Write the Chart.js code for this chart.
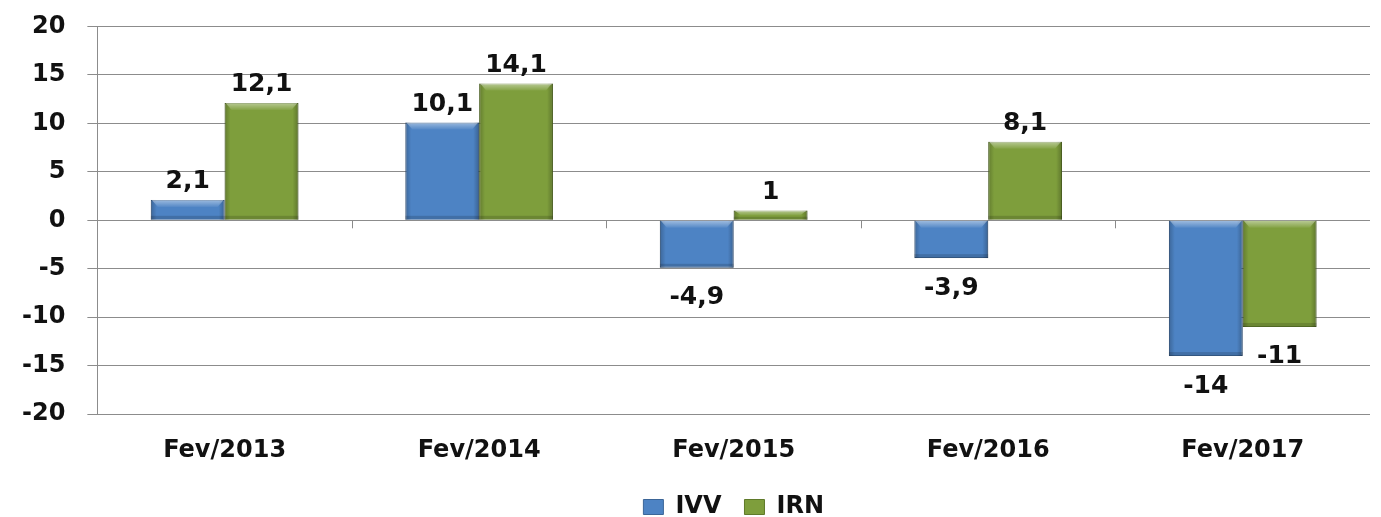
<!DOCTYPE html>
<html>
<head>
<meta charset="utf-8">
<script src="https://cdn.jsdelivr.net/npm/chart.js@4/dist/chart.umd.min.js"></script>
<style>
  html, body { margin: 0; padding: 0; background: #fff; overflow: hidden; }
  #wrap { width: 1381px; height: 529px; }
</style>
</head>
<body>
<div id="wrap"><canvas id="grafico"></canvas></div>
<script>
// ===================== DADOS =====================
const categorias = ["Fev/2013", "Fev/2014", "Fev/2015", "Fev/2016", "Fev/2017"];
const valoresIVV = [2.1, 10.1, -4.9, -3.9, -14];
const valoresIRN = [12.1, 14.1, 1, 8.1, -11];
const nomesSeries = ["IVV", "IRN"];

const fonte = "'DejaVu Sans', Verdana, sans-serif";

// ===================== ROTULOS =====================
const rotulos = {
  id: "rotulos",
  afterDatasetsDraw(chart) {
    const c = chart.ctx;
    c.save();

    // efeito de relevo nas barras
    chart.data.datasets.forEach((ds, i) => {
      chart.getDatasetMeta(i).data.forEach((bar) => {
        const x0 = bar.x - bar.width / 2;
        const top = Math.min(bar.y, bar.base);
        const h = Math.abs(bar.base - bar.y);
        const g = c.createLinearGradient(x0, 0, x0 + bar.width, 0);
        g.addColorStop(0, "rgba(0,0,0,0.22)");
        g.addColorStop(0.08, "rgba(0,0,0,0)");
        g.addColorStop(0.92, "rgba(0,0,0,0)");
        g.addColorStop(1, "rgba(0,0,0,0.25)");
        c.fillStyle = g;
        c.fillRect(x0, top, bar.width, h);
        const faixa = Math.min(7, h / 2);
        const g2 = c.createLinearGradient(0, top, 0, top + faixa);
        g2.addColorStop(0, "rgba(255,255,255,0.45)");
        g2.addColorStop(1, "rgba(255,255,255,0.05)");
        c.fillStyle = g2;
        c.beginPath();
        c.moveTo(x0 + 1, top);
        c.lineTo(x0 + bar.width - 1, top);
        c.lineTo(x0 + bar.width - 7, top + faixa);
        c.lineTo(x0 + 7, top + faixa);
        c.closePath();
        c.fill();
        const fundo = Math.min(4, h / 3);
        c.fillStyle = "rgba(0,0,0,0.15)";
        c.fillRect(x0, top + h - fundo, bar.width, fundo);
      });
    });

    c.font = "bold 25px " + fonte;
    c.fillStyle = "#111";
    c.textAlign = "center";
    c.textBaseline = "middle";
    chart.data.datasets.forEach((ds, i) => {
      chart.getDatasetMeta(i).data.forEach((bar, j) => {
        const v = ds.data[j];
        const y = v >= 0 ? bar.y - 18 : bar.y + 30;
        c.fillText(String(v).replace(".", ","), bar.x, y);
      });
    });
    c.restore();
  },
};

// marquinhas do eixo das categorias (na linha do zero)
const marcas = {
  id: "marcas",
  afterDraw(chart) {
    const c = chart.ctx;
    const x = chart.scales.x;
    const y0 = chart.scales.y.getPixelForValue(0);
    c.save();
    c.strokeStyle = "#8a8a8a";
    c.lineWidth = 1;
    for (let i = 1; i < categorias.length; i++) {
      const px = Math.round(x.getPixelForValue(i - 0.5)) + 0.5;
      c.beginPath();
      c.moveTo(px, y0);
      c.lineTo(px, y0 + 8);
      c.stroke();
    }
    c.restore();
  },
};

// ===================== GRAFICO =====================
const ctx = document.getElementById("grafico");

new Chart(ctx, {
  type: "bar",
  data: {
    labels: categorias,
    datasets: [
      {
        label: nomesSeries[0],
        data: valoresIVV,
        backgroundColor: "#4d83c4",
        borderColor: "#3b6597",
        borderWidth: 1,
      },
      {
        label: nomesSeries[1],
        data: valoresIRN,
        backgroundColor: "#7e9e3c",
        borderColor: "#5f7a2a",
        borderWidth: 1,
      },
    ],
  },
  options: {
    responsive: true,
    maintainAspectRatio: false,
    animation: false,
    layout: { padding: { top: 12, right: 11, left: 0 } },
    datasets: {
      bar: { categoryPercentage: 0.58, barPercentage: 1 },
    },
    plugins: {
      tooltip: { enabled: false },
      legend: {
        position: "bottom",
        fullSize: false,
        labels: {
          font: { family: fonte, size: 24, weight: "bold" },
          color: "#111",
          boxWidth: 20,
          boxHeight: 15,
          padding: 23,
        },
      },
    },
    scales: {
      y: {
        min: -20,
        max: 20,
        ticks: {
          stepSize: 5,
          color: "#111",
          font: { family: fonte, size: 24, weight: "bold" },
          padding: 22,
        },
        grid: { color: "#8c8c8c", tickLength: 10 },
        border: { color: "#8c8c8c" },
        afterFit(scale) {
          scale.paddingTop -= 10;
          scale.paddingBottom -= 10;
        },
      },
      x: {
        grid: { display: false },
        border: { display: false },
        ticks: {
          color: "#111",
          font: { family: fonte, size: 24, weight: "bold" },
          padding: 14,
        },
        afterFit(scale) {
          scale.height -= 7;
        },
      },
    },
  },
  plugins: [rotulos, marcas],
});
</script>
</body>
</html>
